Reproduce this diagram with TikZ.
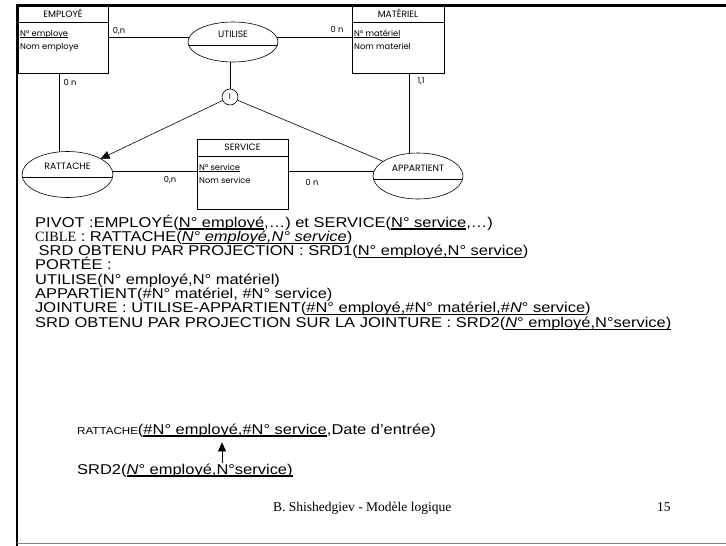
\documentclass[tikz,border=0pt]{standalone}
\usepackage{fontspec}
\setmainfont{Liberation Sans}[FakeStretch=1.16]
\newfontfamily\timesfont{Liberation Serif}
\newfontfamily\merisefont{Poppins}
\usetikzlibrary{arrows.meta,calc,positioning,shapes.geometric}
% underline at fixed depth
\newsavebox{\soulbox}
\newcommand{\souligne}[1]{\sbox{\soulbox}{#1}\rlap{\rule[-2.6pt]{\wd\soulbox}{1.2pt}}\usebox{\soulbox}}
\newcommand{\soulfin}[1]{\sbox{\soulbox}{#1}\rlap{\rule[-1.5pt]{\wd\soulbox}{0.45pt}}\usebox{\soulbox}}
\tikzset{
  cadre/.style={line width=2.6pt, draw=black},
  trait/.style={line width=0.6pt, draw=black},
  entbox/.style={draw, line width=0.6pt, rectangle, inner sep=0pt, outer sep=0pt},
  relbox/.style={draw, line width=0.6pt, ellipse, inner sep=0pt, outer sep=0pt},
  merise/.style={font=\merisefont\fontsize{8.3}{10}\selectfont, inner sep=0pt},
  titre/.style={font=\merisefont\fontsize{9.2}{11}\selectfont, inner sep=0pt},
  card/.style={merise},
  texte/.style={font=\fontsize{14.2}{17}\selectfont, anchor=base west, inner sep=0pt},
  pied/.style={font=\timesfont\fontsize{13.5}{15}\selectfont, anchor=base west, inner sep=0pt},
  fleche/.style={-{Triangle[length=9pt,width=8pt]}, line width=0.6pt},
}
% entity: name, top left, width, height, title, key, attribute
\newcommand{\entite}[7]{
  \coordinate (#1-tl) at #2;
  \node[entbox, minimum width=#3pt, minimum height=#4pt, anchor=north west] (#1) at (#1-tl) {};
  \draw[trait] ($(#1-tl)+(0,17)$) -- ++(#3,0);
  \node[titre] (#1-t) at ($(#1-tl)+(#3/2,8.5)$) {#5};
  \node[merise, anchor=base west] (#1-k) at ($(#1-tl)+(2,31)$) {\soulfin{#6}};
  \node[merise, anchor=base west] (#1-a) at ($(#1-tl)+(2,44)$) {#7};
}
% relation: name, centre, half width, half height, label
\newcommand{\relation}[5]{
  \node[relbox, minimum width={2*#3pt}, minimum height={2*#4pt}] (#1) at #2 {};
  \begin{scope}
    \clip #2 ellipse ({#3} and {#4});
    \draw[trait] ($#2+(-#3,3)$) -- ++(2*#3,0);
  \end{scope}
  \node[titre] (#1-t) at ($#2+(0,-8)$) {#5};
}

\begin{document}
\begin{tikzpicture}[x=1pt,y=-1pt]
  \useasboundingbox (0,0) rectangle (726,546);

  % Slide frame.
  \draw[cadre] (17,546) -- (17,5.3) -- (726,5.3);
  \draw[gray, line width=1.2pt] (17,543.5) -- (726,543.5);

  % Conceptual model.
  \entite{emp}{(18,5)}{90}{68}{EMPLOYÉ}{N° employe}{Nom employe}
  \entite{mat}{(352,5)}{92}{68}{MATÉRIEL}{N° matériel}{Nom materiel}
  \entite{ser}{(197,139)}{91}{70}{SERVICE}{N° service}{Nom service}
  \relation{uti}{(233,42)}{45}{20}{UTILISE}
  \relation{rat}{(67.5,174.5)}{45.5}{23}{RATTACHE}
  \relation{app}{(418,176)}{45}{23}{APPARTIENT}
  \node[merise, circle, draw, line width=0.6pt, minimum size=16pt] (incl) at (230,97) {I};

  \draw[trait] (emp.east |- uti.174) -- (uti.174);
  \draw[trait] (uti.6) -- (mat.west |- uti.6);
  \draw[trait] (rat.110 |- emp.south) -- (rat.110);
  \draw[trait] (app.110 |- mat.south) -- (app.110);
  \draw[trait] (rat.4) -- (ser.west |- rat.4);
  \draw[trait] (ser.east |- app.174) -- (app.174);
  \draw[trait] (incl |- uti.south) -- (incl);
  \draw[fleche] (incl) -- (rat);
  \draw[trait] (incl) -- (app);

  \node[card] (c1) at (119,31) {0,n};
  \node[card] (c2) at (337,29) {0 n};
  \node[card] (c3) at (70,82) {0 n};
  \node[card] (c4) at (421,81) {1,1};
  \node[card] (c5) at (170,180) {0,n};
  \node[card] (c6) at (312,182) {0 n};

  % Logical derivation.
  \node[texte] (pivot) at (35,227) {PIVOT :EMPLOYÉ(\souligne{N° employé},…) et SERVICE(\souligne{N° service},…)};
  \node[texte] (cible) at ($(pivot.base west)+(0,14.3)$) {{\timesfont CIBLE} : RATTACHE(\souligne{\textit{N° employé,N° service}})};
  \node[texte] (srdun) at ($(cible.base west)+(3.5,14.3)$) {SRD OBTENU PAR PROJECTION : SRD1(\souligne{N° employé,N° service})};
  \node[texte] (portee) at ($(srdun.base west)+(-3.5,14.3)$) {PORTÉE :};
  \node[texte] (utilise) at ($(portee.base west)+(0,14.3)$) {UTILISE(N° employé,N° matériel)};
  \node[texte] (appart) at ($(utilise.base west)+(0,14.3)$) {APPARTIENT(\#N° matériel, \#N° service)};
  \node[texte] (jointure) at ($(appart.base west)+(0,14.3)$) {JOINTURE : UTILISE-APPARTIENT(\souligne{\#N° employé,\#N° matériel,\#\textit{N}° service})};
  \node[texte] (srddeux) at ($(jointure.base west)+(0,14.3)$) {SRD OBTENU PAR PROJECTION SUR LA JOINTURE : SRD2(\souligne{\textit{N}° employé,N°service)}};

  \node[texte] (rattrel) at (77,434) {{\fontsize{10}{12}\selectfont RATTACHE}(\souligne{\#N° employé,\#N° service},Date d'entrée)};
  \node[texte] (srdrel) at (77,474) {SRD2(\souligne{\textit{N}° employé,N°service)}};
  \coordinate (flx) at (222,0);
  \draw[fleche] (srdrel.north -| flx) -- ++(0,-21);

  \node[pied] (auteur) at (273,511) {B. Shishedgiev - Modèle logique};
  \node[pied] (page) at (657,511) {15};
\end{tikzpicture}
\end{document}
